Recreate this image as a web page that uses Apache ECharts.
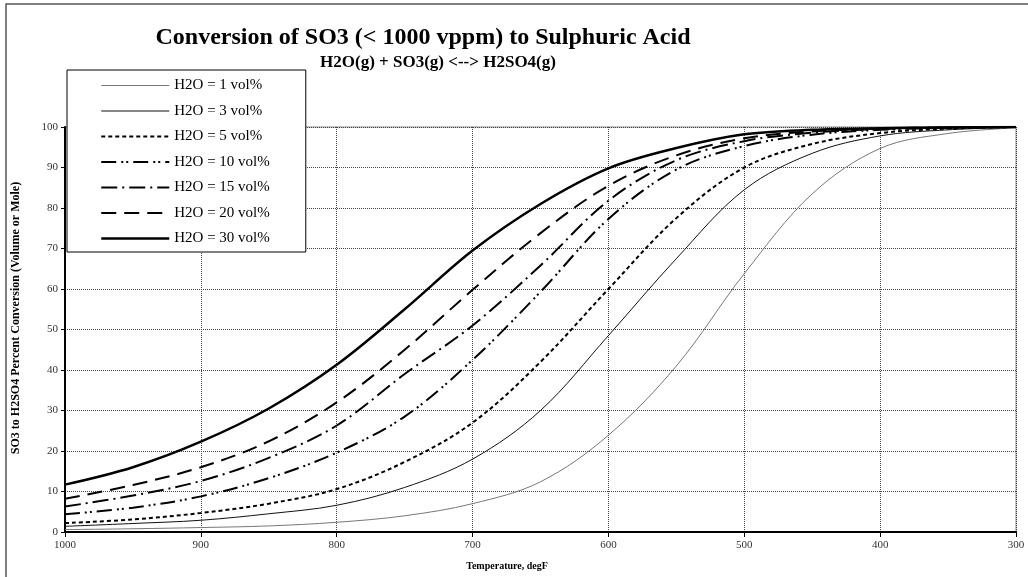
<!DOCTYPE html>
<html>
<head>
<meta charset="utf-8">
<title>SO3 to H2SO4 conversion</title>
<script src="https://cdn.jsdelivr.net/npm/echarts@6/dist/echarts.min.js"></script>
<style>
  html, body { margin: 0; padding: 0; background: #fff; }
  #chart { width: 1028px; height: 577px; }
</style>
</head>
<body>
<div id="chart"></div>
<script>
// Temperatures read along the x axis (degF), axis runs 1000 -> 300
const temps = [1000, 950, 900, 850, 800, 750, 700, 650, 600, 550, 500, 450, 400, 350, 300];

// Percent conversion for each water content
const h2o1  = [0.6, 0.8, 1.1, 1.5, 2.4, 4.0, 7.0, 12.4, 23.9, 41.0, 63.8, 83.5, 94.7, 98.4, 99.8];
const h2o3  = [1.4, 2.1, 2.9, 4.5, 6.6, 11.0, 18.0, 30.0, 48.5, 67.5, 84.5, 93.5, 97.8, 99.3, 99.9];
const h2o5  = [2.2, 3.1, 4.7, 7.0, 10.6, 17.3, 27.0, 42.0, 60.0, 77.5, 90.0, 95.8, 98.5, 99.6, 100];
const h2o10 = [4.4, 6.0, 8.8, 13.3, 19.6, 28.5, 42.5, 59.3, 77.3, 89.5, 95.3, 98.1, 99.3, 99.8, 100];
const h2o15 = [6.3, 9.0, 12.6, 18.3, 26.3, 39.0, 51.0, 65.8, 81.8, 91.8, 96.5, 98.6, 99.5, 99.85, 100];
const h2o20 = [8.2, 11.6, 16.0, 22.4, 32.0, 45.0, 59.8, 73.8, 85.5, 93.0, 97.2, 98.9, 99.6, 99.9, 100];
const h2o30 = [11.7, 16.0, 22.3, 30.5, 41.3, 55.0, 69.5, 81.0, 89.8, 94.8, 98.2, 99.3, 99.7, 99.9, 100];

const seriesNames = ['H2O = 1 vol%', 'H2O = 3 vol%', 'H2O = 5 vol%', 'H2O = 10 vol%',
                     'H2O = 15 vol%', 'H2O = 20 vol%', 'H2O = 30 vol%'];
const seriesValues = [h2o1, h2o3, h2o5, h2o10, h2o15, h2o20, h2o30];

// line look of each curve (Excel style dashes)
const lineLooks = [
  { color: '#777', width: 1, type: 'solid' },
  { color: '#111', width: 1, type: 'solid' },
  { color: '#000', width: 2, type: [4, 3] },
  { color: '#000', width: 2, type: [15, 5, 2, 3, 2, 5] },
  { color: '#000', width: 2, type: [16, 5, 2, 5] },
  { color: '#000', width: 2, type: [15, 8] },
  { color: '#000', width: 2.5, type: 'solid' }
];

const serif = 'Liberation Serif, Times New Roman, serif';
const chart = echarts.init(document.getElementById('chart'));

const series = seriesNames.map((name, i) => ({
  name: name,
  type: 'line',
  data: temps.map((t, k) => [t, seriesValues[i][k]]),
  symbol: 'none',
  showSymbol: false,
  smooth: 0.35,
  color: lineLooks[i].color,
  lineStyle: lineLooks[i],
  silent: true,
  z: 2
}));

chart.setOption({
  animation: false,
  backgroundColor: '#fff',
  title: [
    {
      text: 'Conversion of SO3 (< 1000 vppm) to Sulphuric Acid',
      left: 418, top: 21, textAlign: 'center',
      textStyle: { fontFamily: serif, fontSize: 24, fontWeight: 'bold', color: '#000' }
    },
    {
      text: 'H2O(g) + SO3(g) <--> H2SO4(g)',
      left: 433, top: 49, textAlign: 'center',
      textStyle: { fontFamily: serif, fontSize: 17, fontWeight: 'bold', color: '#000' }
    }
  ],
  legend: {
    orient: 'vertical',
    left: 67, top: 70,
    padding: [8, 36, 6, 33],
    itemWidth: 68, itemHeight: 14, itemGap: 10.5,
    backgroundColor: '#fff',
    borderColor: '#000', borderWidth: 1,
    selectedMode: false,
    z: 10,
    textStyle: { fontFamily: serif, fontSize: 15, color: '#000' },
    // line sample only: the symbol in the middle is made invisible
    data: seriesNames.map((name, i) => ({
      name: name,
      itemStyle: { opacity: 0 },
      lineStyle: { color: lineLooks[i].color, width: lineLooks[i].width, type: lineLooks[i].type, opacity: 1 }
    }))
  },
  grid: {
    left: 65, right: 12, top: 127, bottom: 45,
    show: true, borderColor: '#888', borderWidth: 1
  },
  xAxis: {
    type: 'value',
    inverse: true,
    min: 300, max: 1000, interval: 100,
    axisLine: { lineStyle: { color: '#000', width: 2 } },
    axisTick: { show: true, length: 5, lineStyle: { color: '#000' } },
    axisLabel: { fontFamily: serif, fontSize: 11, color: '#333', margin: 8, formatter: v => String(v) },
    splitLine: { show: true, lineStyle: { color: '#444', type: 'dotted', width: 1 } }
  },
  yAxis: {
    type: 'value',
    min: 0, max: 100, interval: 10,
    axisLine: { show: true, lineStyle: { color: '#000', width: 2 } },
    axisTick: { show: true, length: 4, lineStyle: { color: '#000' } },
    axisLabel: { fontFamily: serif, fontSize: 11, color: '#333', margin: 7 },
    splitLine: { show: true, lineStyle: { color: '#444', type: 'dotted', width: 1 } }
  },
  graphic: [
    // outer chart frame
    {
      type: 'rect', silent: true, z: -1,
      shape: { x: 6, y: 4, width: 1040, height: 600 },
      style: { fill: 'none', stroke: '#555', lineWidth: 1.5 }
    },
    {
      type: 'text', x: 16, y: 318, rotation: Math.PI / 2,
      style: {
        text: 'SO3 to H2SO4 Percent Conversion (Volume or Mole)',
        font: 'bold 12px ' + serif, fill: '#000',
        align: 'center', verticalAlign: 'middle'
      }
    },
    {
      type: 'text', x: 507, y: 566,
      style: {
        text: 'Temperature, degF',
        font: 'bold 10px ' + serif, fill: '#000',
        align: 'center', verticalAlign: 'middle'
      }
    }
  ],
  series: series
});
</script>
</body>
</html>
